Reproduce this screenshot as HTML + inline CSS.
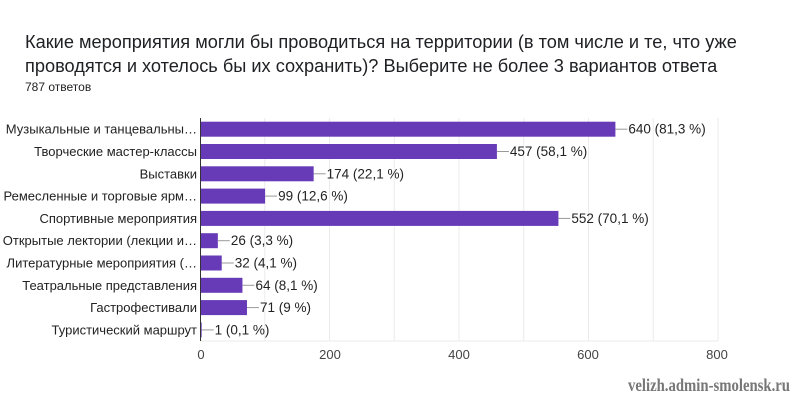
<!DOCTYPE html>
<html><head><meta charset="utf-8"><style>
body{margin:0;width:800px;height:407px;background:#fff;overflow:hidden;font-family:"Liberation Sans",sans-serif;}
</style></head><body>
<svg width="800" height="407" xmlns="http://www.w3.org/2000/svg" font-family="Liberation Sans, sans-serif">
<text x="25" y="48" font-size="18.2" fill="#202124">Какие мероприятия могли бы проводиться на территории (в том числе и те, что уже</text>
<text x="25" y="72" font-size="18.2" fill="#202124">проводятся и хотелось бы их сохранить)?  Выберите не более 3 вариантов ответа</text>
<text x="25" y="91" font-size="12" fill="#202124">787 ответов</text>
<g stroke="#ebebeb" stroke-width="1">
<line x1="264.75" y1="118" x2="264.75" y2="341"/><line x1="329.5" y1="118" x2="329.5" y2="341"/><line x1="394.25" y1="118" x2="394.25" y2="341"/><line x1="459" y1="118" x2="459" y2="341"/><line x1="523.75" y1="118" x2="523.75" y2="341"/><line x1="588.5" y1="118" x2="588.5" y2="341"/><line x1="653.25" y1="118" x2="653.25" y2="341"/><line x1="718" y1="118" x2="718" y2="341"/>
<line x1="200" y1="341" x2="718" y2="341"/>
</g>
<g font-size="13" fill="#222" text-anchor="end" id="labels"></g>
<g id="bars"></g>
<line x1="200.5" y1="118" x2="200.5" y2="341" stroke="#333" stroke-width="1"/>
<g font-size="13" fill="#444" text-anchor="middle">
<text x="201" y="359">0</text><text x="330" y="359">200</text><text x="459" y="359">400</text><text x="588" y="359">600</text><text x="717" y="359">800</text>
</g>
<text x="628" y="391" font-size="18" font-weight="bold" fill="#777" textLength="162" lengthAdjust="spacingAndGlyphs" font-family="Liberation Serif, serif">velizh.admin-smolensk.ru</text>
<script>
var d=[["Музыкальные и танцевальны…",640,"640 (81,3 %)"],["Творческие мастер-классы",457,"457 (58,1 %)"],["Выставки",174,"174 (22,1 %)"],["Ремесленные и торговые ярм…",99,"99 (12,6 %)"],["Спортивные мероприятия",552,"552 (70,1 %)"],["Открытые лектории (лекции и…",26,"26 (3,3 %)"],["Литературные мероприятия (…",32,"32 (4,1 %)"],["Театральные представления",64,"64 (8,1 %)"],["Гастрофестивали",71,"71 (9 %)"],["Туристический маршрут",1,"1 (0,1 %)"]];
var ns="http://www.w3.org/2000/svg",L=document.getElementById("labels"),B=document.getElementById("bars");
d.forEach(function(r,i){var cy=129.2+i*22.3,w=r[1]*0.6475;
var t=document.createElementNS(ns,"text");t.setAttribute("x",197);t.setAttribute("y",cy+4.5);t.textContent=r[0];L.appendChild(t);
var b=document.createElementNS(ns,"rect");b.setAttribute("x",201);b.setAttribute("y",cy-7.5);b.setAttribute("width",w);b.setAttribute("height",15);b.setAttribute("fill","#673ab7");B.appendChild(b);
var l=document.createElementNS(ns,"line");l.setAttribute("x1",201+w);l.setAttribute("x2",201+w+12);l.setAttribute("y1",cy);l.setAttribute("y2",cy);l.setAttribute("stroke","#999");B.appendChild(l);
var v=document.createElementNS(ns,"text");v.setAttribute("x",201+w+13);v.setAttribute("y",cy+4.5);v.setAttribute("font-size","13.5");v.setAttribute("fill","#222");v.textContent=r[2];B.appendChild(v);});
</script>
</svg>
</body></html>
